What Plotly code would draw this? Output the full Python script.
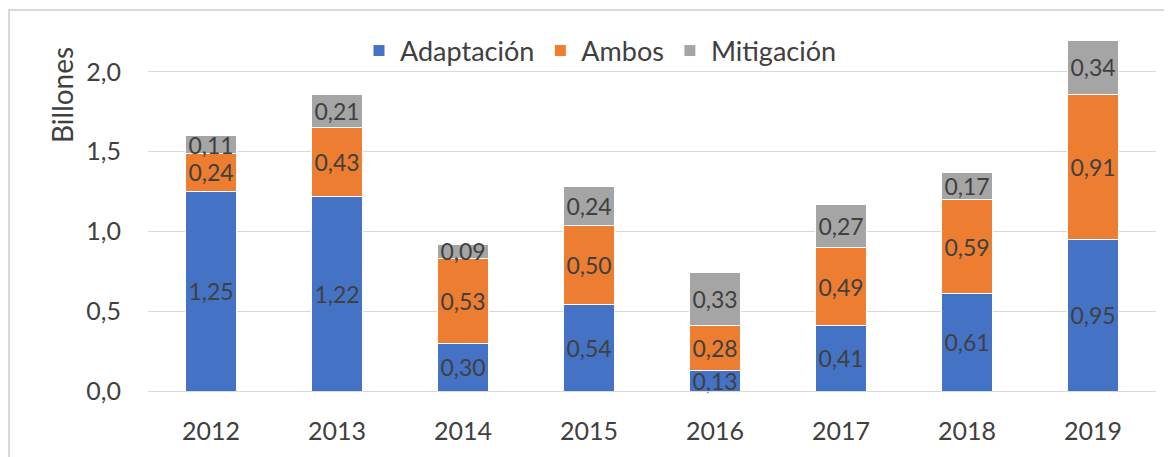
import plotly.graph_objects as go

years = ["2012", "2013", "2014", "2015", "2016", "2017", "2018", "2019"]
adaptacion = [1.25, 1.22, 0.30, 0.54, 0.13, 0.41, 0.61, 0.95]
ambos = [0.24, 0.43, 0.53, 0.50, 0.28, 0.49, 0.59, 0.91]
mitigacion = [0.11, 0.21, 0.09, 0.24, 0.33, 0.27, 0.17, 0.34]
y_ticks = [0.0, 0.5, 1.0, 1.5, 2.0]
y_tick_labels = ["0,0", "0,5", "1,0", "1,5", "2,0"]

FONT = "Lato, Open Sans, sans-serif"
TXT = "#404040"

def fmt(v):
    return f"{v:.2f}".replace(".", ",")

series = [
    ("Adaptación", adaptacion, "#4472C4"),
    ("Ambos", ambos, "#ED7D31"),
    ("Mitigación", mitigacion, "#A5A5A5"),
]

fig = go.Figure()
for name, vals, color in series:
    fig.add_trace(go.Bar(
        x=years, y=vals, name=name,
        marker=dict(color=color, line=dict(color="white", width=1)),
        text=[fmt(v) for v in vals],
        textposition="inside", insidetextanchor="middle",
        textangle=0,
        textfont=dict(family=FONT, size=23, color=TXT),
        constraintext="none",
        cliponaxis=False,
    ))

# page is offset by the 8px default body margin
W, H = 1164, 449
L, R, T, B = 140, 16, 32, 66
pw, ph = W - L - R, H - T - B

fig.update_layout(
    width=W, height=H,
    barmode="stack", bargap=0.6,
    margin=dict(l=L, r=R, t=T, b=B),
    paper_bgcolor="white", plot_bgcolor="white",
    font=dict(family=FONT, color=TXT),
    legend=dict(
        orientation="h", x=(592 - L) / pw, xanchor="center", y=(H - B - 43) / ph, yanchor="middle",
        font=dict(family=FONT, size=27, color=TXT),
        itemwidth=32, bgcolor="rgba(255,255,255,0)",
        traceorder="normal",
    ),
    xaxis=dict(
        showgrid=False, showline=True, linecolor="#D9D9D9", linewidth=1,
        ticks="", tickfont=dict(family=FONT, size=25, color=TXT),
        ticklabelstandoff=18,
    ),
    yaxis=dict(
        range=[0, 2.2], tickvals=y_ticks, ticktext=y_tick_labels,
        showgrid=True, gridcolor="#D9D9D9", gridwidth=1,
        zeroline=False, showline=False, ticks="",
        tickfont=dict(family=FONT, size=25, color=TXT),
        ticklabelstandoff=26,
    ),
    annotations=[dict(
        text="Billones", textangle=-90, showarrow=False,
        xref="paper", yref="paper",
        x=(54 - L) / pw, y=(H - B - 87) / ph,
        xanchor="center", yanchor="middle",
        font=dict(family=FONT, size=28, color=TXT),
    )],
    shapes=[dict(
        type="rect", xref="paper", yref="paper",
        x0=(1 - L) / pw, x1=(W + 10 - L) / pw,
        y0=(H - B - (H + 10)) / ph, y1=(H - B - 2) / ph,
        line=dict(color="#D9D9D9", width=2), fillcolor="rgba(0,0,0,0)",
        layer="below",
    )],
)

fig.write_html("out.html")
